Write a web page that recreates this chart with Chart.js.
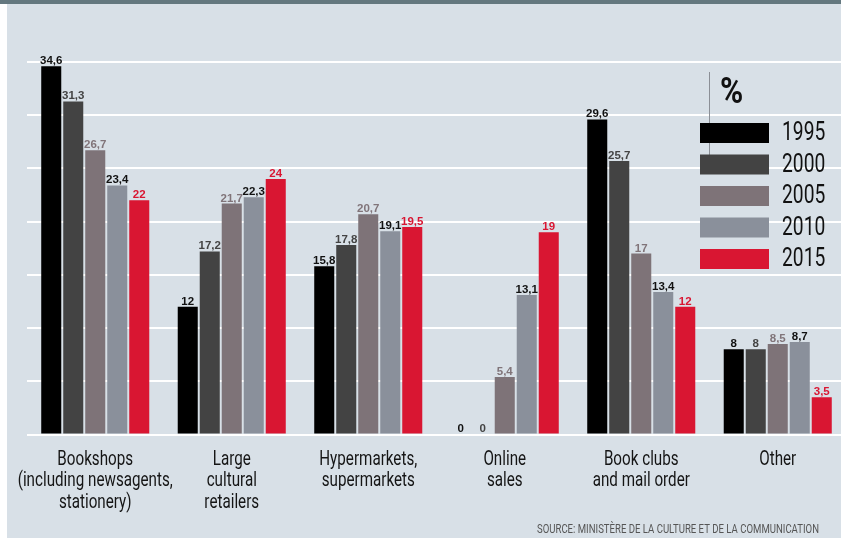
<!DOCTYPE html>
<html>
<head>
<meta charset="utf-8">
<script src="https://cdn.jsdelivr.net/npm/chart.js@4.4.0/dist/chart.umd.min.js"></script>
<style>
  body { margin: 0; background: #fff; overflow: hidden; }
  canvas { display: block; }
</style>
</head>
<body>
<!-- a few px wider than the window: the last group runs off the right edge like the original -->
<canvas id="sales" width="846" height="539"></canvas>
<script>
var categories = [
  ["Bookshops", "(including newsagents,", "stationery)"],
  ["Large", "cultural", "retailers"],
  ["Hypermarkets,", "supermarkets"],
  ["Online", "sales"],
  ["Book clubs", "and mail order"],
  ["Other"]
];
var years = ["1995", "2000", "2005", "2010", "2015"];
var v1995 = [34.6, 12, 15.8, 0, 29.6, 8];
var v2000 = [31.3, 17.2, 17.8, 0, 25.7, 8];
var v2005 = [26.7, 21.7, 20.7, 5.4, 17, 8.5];
var v2010 = [23.4, 22.3, 19.1, 13.1, 13.4, 8.7];
var v2015 = [22, 24, 19.5, 19, 12, 3.5];
var yTicks = [0, 5, 10, 15, 20, 25, 30, 35];

var barColors = ["#000000", "#434343", "#7e7378", "#8a909b", "#d91632"];
var labelColors = ["#111111", "#444444", "#807479", "#111111", "#d91632"];
var face = "Roboto, 'Liberation Sans', sans-serif";

// condensed look: squeeze the text horizontally
function narrowText(ctx, txt, x, y, sx) {
  ctx.save();
  ctx.translate(x, y);
  ctx.scale(sx, 1);
  ctx.fillText(txt, 0, 0);
  ctx.restore();
}

var background = {
  id: "background",
  beforeDraw: function (chart) {
    var ctx = chart.ctx;
    ctx.save();
    ctx.fillStyle = "#ffffff";
    ctx.fillRect(0, 0, chart.width, chart.height);
    ctx.fillStyle = "#d8e0e7";
    ctx.fillRect(7, 4, chart.width - 7, chart.height - 5);
    ctx.fillStyle = "#64787f";
    ctx.fillRect(0, 0, chart.width, 4);
    ctx.restore();
  }
};

// numbers over bars, decimal comma
var valueLabels = {
  id: "valueLabels",
  afterDatasetsDraw: function (chart) {
    var ctx = chart.ctx;
    ctx.save();
    ctx.font = "bold 11.5px 'Liberation Sans', Arial, sans-serif";
    ctx.textAlign = "center";
    ctx.textBaseline = "alphabetic";
    chart.data.datasets.forEach(function (ds, i) {
      var meta = chart.getDatasetMeta(i);
      ctx.fillStyle = labelColors[i];
      meta.data.forEach(function (bar, j) {
        var txt = String(ds.data[j]).replace(".", ",");
        ctx.fillText(txt, bar.x, bar.y - 2);
      });
    });
    ctx.restore();
  }
};

// category names under each group
var categoryLabels = {
  id: "categoryLabels",
  afterDraw: function (chart) {
    var ctx = chart.ctx;
    var xs = chart.scales.x;
    var top = chart.chartArea.bottom + 25;
    ctx.save();
    ctx.fillStyle = "#151515";
    ctx.font = "20px " + face;
    ctx.textAlign = "center";
    ctx.textBaseline = "middle";
    chart.data.labels.forEach(function (lines, i) {
      var x = xs.getPixelForTick(i);
      lines.forEach(function (line, k) {
        narrowText(ctx, line, x, top + k * 21.5, 0.76);
      });
    });
    ctx.restore();
  }
};

// legend block on the right, plus source line
var sideLegend = {
  id: "sideLegend",
  afterDraw: function (chart) {
    var ctx = chart.ctx;
    ctx.save();
    ctx.fillStyle = "#111111";
    ctx.font = "bold 37px " + face;
    ctx.textBaseline = "alphabetic";
    ctx.textAlign = "left";
    narrowText(ctx, "%", 720, 103, 0.85);

    ctx.strokeStyle = "#8b8f96";
    ctx.lineWidth = 1;
    ctx.beginPath();
    ctx.moveTo(709.5, 72);
    ctx.lineTo(709.5, 157);
    ctx.stroke();

    ctx.font = "25px " + face;
    ctx.textBaseline = "middle";
    chart.data.datasets.forEach(function (ds, i) {
      var y = 133 + i * 31.5;
      ctx.fillStyle = ds.backgroundColor;
      ctx.fillRect(700, y - 10, 69, 20);
      ctx.fillStyle = "#111111";
      narrowText(ctx, ds.label, 782, y + 1, 0.77);
    });

    ctx.font = "12px " + face;
    ctx.fillStyle = "#555555";
    ctx.textBaseline = "alphabetic";
    ctx.fillText("SOURCE: MINISTÈRE DE LA CULTURE ET DE LA COMMUNICATION", 537, 533, 282);
    ctx.restore();
  }
};

var series = [v1995, v2000, v2005, v2010, v2015];

new Chart(document.getElementById("sales").getContext("2d"), {
  type: "bar",
  data: {
    labels: categories,
    datasets: years.map(function (yr, i) {
      return {
        label: yr,
        data: series[i],
        backgroundColor: barColors[i],
        categoryPercentage: 0.806,
        barPercentage: 0.91,
        minBarLength: 1
      };
    })
  },
  options: {
    responsive: false,
    animation: false,
    devicePixelRatio: 1,
    layout: { padding: { top: 62, left: 27, right: 0, bottom: 0 } },
    plugins: {
      legend: { display: false },
      tooltip: { enabled: false }
    },
    scales: {
      x: {
        grid: { display: false },
        border: { display: false },
        ticks: { display: false },
        afterFit: function (s) {
          s.height = 104.5;
          s.paddingLeft = 0;
          s.paddingRight = 0;
        }
      },
      y: {
        min: 0,
        max: 35,
        afterBuildTicks: function (s) {
          s.ticks = yTicks.map(function (v) { return { value: v }; });
        },
        grid: { color: "#ffffff", lineWidth: 2, drawTicks: false },
        border: { display: false },
        ticks: { display: false },
        afterFit: function (s) { s.width = 0; }
      }
    }
  },
  plugins: [background, valueLabels, categoryLabels, sideLegend]
});
</script>
</body>
</html>
